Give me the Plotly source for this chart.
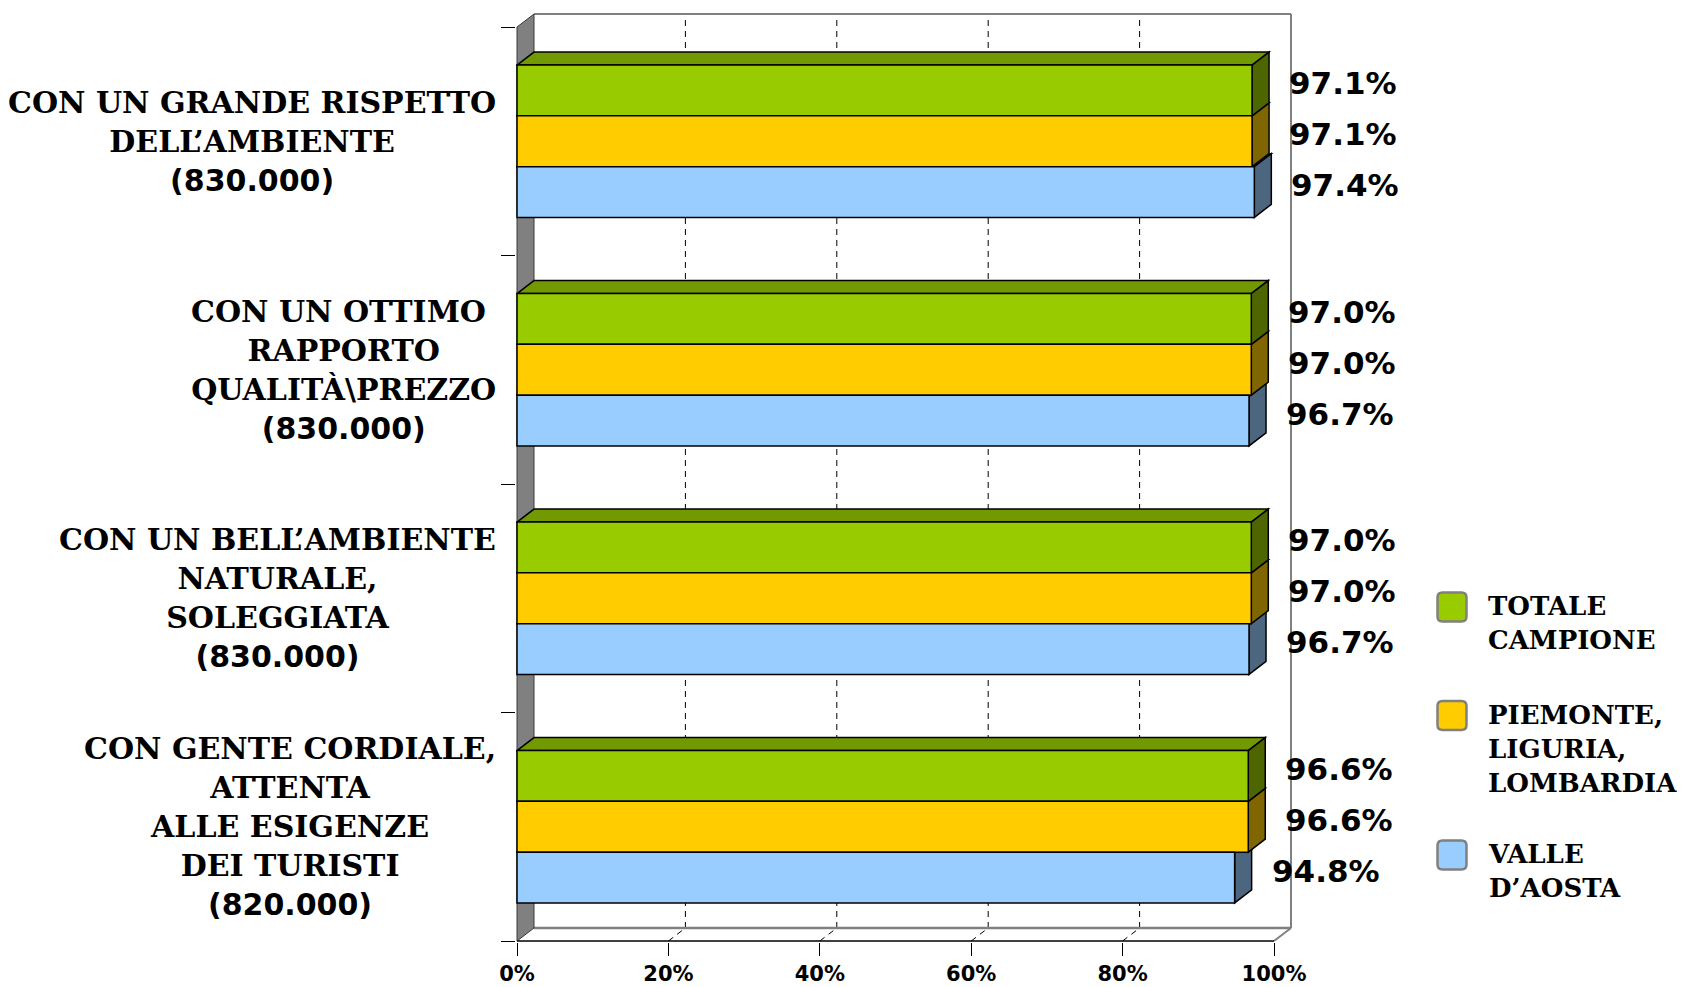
import plotly.graph_objects as go

# ---------------- data ----------------
category_lines = [
    ["CON UN GRANDE RISPETTO", "DELL’AMBIENTE"],
    ["CON UN OTTIMO ", "RAPPORTO", "QUALITÀ\\PREZZO"],
    ["CON UN BELL’AMBIENTE", "NATURALE,", "SOLEGGIATA"],
    ["CON GENTE CORDIALE,", "ATTENTA", "ALLE ESIGENZE", "DEI TURISTI"],
]
category_counts = ["(830.000)", "(830.000)", "(830.000)", "(820.000)"]

series_names = ["TOTALE CAMPIONE", "PIEMONTE, LIGURIA, LOMBARDIA", "VALLE D’AOSTA"]
legend_labels = ["TOTALE<br>CAMPIONE", "PIEMONTE,<br>LIGURIA,<br>LOMBARDIA", "VALLE<br>D’AOSTA"]

totale_campione = [97.1, 97.0, 97.0, 96.6]
piemonte_liguria_lombardia = [97.1, 97.0, 97.0, 96.6]
valle_daosta = [97.4, 96.7, 96.7, 94.8]

tick_values = [0, 20, 40, 60, 80, 100]
tick_labels = ["0%", "20%", "40%", "60%", "80%", "100%"]

# ---------------- styles ----------------
front_colors = ["#99CC00", "#FFCC00", "#99CCFF"]
top_colors = ["#739900", "#BF9900", "#7399BF"]
side_colors = ["#4D6600", "#806600", "#4D6680"]
series_values = [totale_campione, piemonte_liguria_lombardia, valle_daosta]

FIG_W, FIG_H = 1682, 987
PLOT_L, PLOT_R, PLOT_T, PLOT_B = 516, 1300, 10, 942   # plot-area pixel edges
X0_PX, Y0_PX = 517, 941                               # pixel of x=0 / y=0
PX_PER_X = 7.57                                       # pixels per percent
BAND_PX = 228.5                                       # pixels per category band
XMIN = -(X0_PX - PLOT_L) / PX_PER_X
XMAX = (PLOT_R - X0_PX) / PX_PER_X
YMIN = -(PLOT_B - Y0_PX) / BAND_PX
YMAX = (Y0_PX - PLOT_T) / BAND_PX
DX = 17 / PX_PER_X      # 3-D depth offset in x units
DY = 13 / BAND_PX       # 3-D depth offset in y units
BAR_W = 2 / 9           # gap width 150 %
offsets = [BAR_W, 0.0, -BAR_W]

n = len(category_lines)
centers = [n - i - 0.5 for i in range(n)]


def px2paper_x(px):
    return (px - PLOT_L) / (PLOT_R - PLOT_L)


def py2paper_y(py):
    return (PLOT_B - py) / (PLOT_B - PLOT_T)


SERIF = "DejaVu Serif"
SANS = "DejaVu Sans"

fig = go.Figure()

# front faces of the bars
for s in range(3):
    fig.add_trace(go.Bar(
        x=series_values[s],
        y=[c + offsets[s] for c in centers],
        orientation="h",
        width=BAR_W,
        name=series_names[s],
        marker=dict(color=front_colors[s], line=dict(color="black", width=1.5)),
        showlegend=False,
        hoverinfo="x+name",
    ))

shapes = []
grid_dash = "6px,5px"
# back wall grid lines + floor diagonals
for v in tick_values[1:-1]:
    shapes.append(dict(type="line", xref="x", yref="y", layer="below",
                       x0=v + DX, y0=DY, x1=v + DX, y1=n + DY,
                       line=dict(color="black", width=1, dash=grid_dash)))
    shapes.append(dict(type="line", xref="x", yref="y", layer="below",
                       x0=v, y0=0, x1=v + DX, y1=DY,
                       line=dict(color="black", width=1, dash=grid_dash)))
xr = tick_values[-1]
gray = "#808080"
# back wall outline and floor
shapes += [
    dict(type="line", xref="x", yref="y", layer="below", x0=DX, y0=n + DY, x1=xr + DX, y1=n + DY,
         line=dict(color=gray, width=2)),
    dict(type="line", xref="x", yref="y", layer="below", x0=xr + DX, y0=DY, x1=xr + DX, y1=n + DY,
         line=dict(color=gray, width=2)),
    dict(type="line", xref="x", yref="y", layer="below", x0=DX, y0=DY, x1=xr + DX, y1=DY,
         line=dict(color=gray, width=2.5)),
    dict(type="line", xref="x", yref="y", layer="below", x0=xr, y0=0, x1=xr + DX, y1=DY,
         line=dict(color=gray, width=2)),
    dict(type="path", xref="x", yref="y", layer="below",
         path=f"M 0,0 L 0,{n} L {DX},{n + DY} L {DX},{DY} Z",
         fillcolor=gray, line=dict(color="#3a3a3a", width=1)),
    dict(type="line", xref="x", yref="y", layer="below", x0=0, y0=0, x1=xr, y1=0,
         line=dict(color="black", width=1.5)),
]

# top and side faces of the bars (drawn bottom bar first)
for i, c in enumerate(centers):
    for s in [2, 1, 0]:
        v = series_values[s][i]
        yb = c + offsets[s] - BAR_W / 2
        yt = c + offsets[s] + BAR_W / 2
        shapes.append(dict(type="path", xref="x", yref="y", layer="below",
                           path=f"M 0,{yt} L {DX},{yt + DY} L {v + DX},{yt + DY} L {v},{yt} Z",
                           fillcolor=top_colors[s], line=dict(color="black", width=1.5)))
        shapes.append(dict(type="path", xref="x", yref="y", layer="below",
                           path=f"M {v},{yb} L {v},{yt} L {v + DX},{yt + DY} L {v + DX},{yb + DY} Z",
                           fillcolor=side_colors[s], line=dict(color="black", width=1.5)))

annotations = []
# value labels
for s in range(3):
    for i, c in enumerate(centers):
        v = series_values[s][i]
        annotations.append(dict(
            xref="x", yref="y", x=v, y=c + offsets[s],
            xanchor="left", yanchor="middle", xshift=17 + 18, yshift=7,
            text=f"{v:.1f}%", showarrow=False,
            font=dict(family=SANS, size=31, color="black", weight="bold"),
        ))

# category labels
for i, c in enumerate(centers):
    txt = "<br>".join(category_lines[i]) + \
        f"<br><span style=\"font-family:{SANS}\">{category_counts[i]}</span>"
    annotations.append(dict(
        xref="paper", yref="y", x=px2paper_x(498), y=c,
        xanchor="right", yanchor="middle", align="center",
        text=txt, showarrow=False,
        font=dict(family=SERIF, size=30, color="black", weight="bold"),
    ))

# custom legend
legend_centers_py = [607, 715.5, 855]
sq_cx, sq_size, sq_r = 1452, 29, 5


def rrect(cx, cy, size, r):
    x0, x1 = cx - size / 2, cx + size / 2
    y0, y1 = cy - size / 2, cy + size / 2
    P = lambda x, y: f"{px2paper_x(x):.6f},{py2paper_y(y):.6f}"
    return (f"M {P(x0 + r, y0)} L {P(x1 - r, y0)} Q {P(x1, y0)} {P(x1, y0 + r)} "
            f"L {P(x1, y1 - r)} Q {P(x1, y1)} {P(x1 - r, y1)} L {P(x0 + r, y1)} "
            f"Q {P(x0, y1)} {P(x0, y1 - r)} L {P(x0, y0 + r)} Q {P(x0, y0)} {P(x0 + r, y0)} Z")


for s in range(3):
    cy = legend_centers_py[s]
    shapes.append(dict(type="path", xref="paper", yref="paper", layer="above",
                       path=rrect(sq_cx, cy, sq_size, sq_r),
                       fillcolor=front_colors[s], line=dict(color=gray, width=2.5)))
    annotations.append(dict(
        xref="paper", yref="paper", x=px2paper_x(1486), y=py2paper_y(cy - 18),
        xanchor="left", yanchor="top", align="left",
        text=legend_labels[s], showarrow=False,
        font=dict(family=SERIF, size=26, color="black", weight="bold"),
    ))

fig.update_layout(
    width=FIG_W, height=FIG_H, autosize=False,
    margin=dict(l=PLOT_L, r=FIG_W - PLOT_R, t=PLOT_T, b=FIG_H - PLOT_B, pad=0,
                autoexpand=False),
    paper_bgcolor="white", plot_bgcolor="white",
    barmode="overlay",
    showlegend=False,
    shapes=shapes,
    annotations=annotations,
    xaxis=dict(range=[XMIN, XMAX], tickvals=tick_values, ticktext=tick_labels,
               ticks="outside", ticklen=13, tickwidth=1, tickcolor="black",
               showgrid=False, zeroline=False, showline=False, automargin=False,
               tickfont=dict(family=SANS, size=21, color="black", weight="bold"),
               fixedrange=True),
    yaxis=dict(range=[YMIN, YMAX], tickvals=list(range(n + 1)),
               ticks="outside", ticklen=14, tickwidth=1, tickcolor="black",
               showticklabels=False, showgrid=False, zeroline=False, showline=False,
               automargin=False, fixedrange=True),
)

fig.write_html("out.html", config={"displayModeBar": False},
               post_script="document.body.style.margin='0px';")
